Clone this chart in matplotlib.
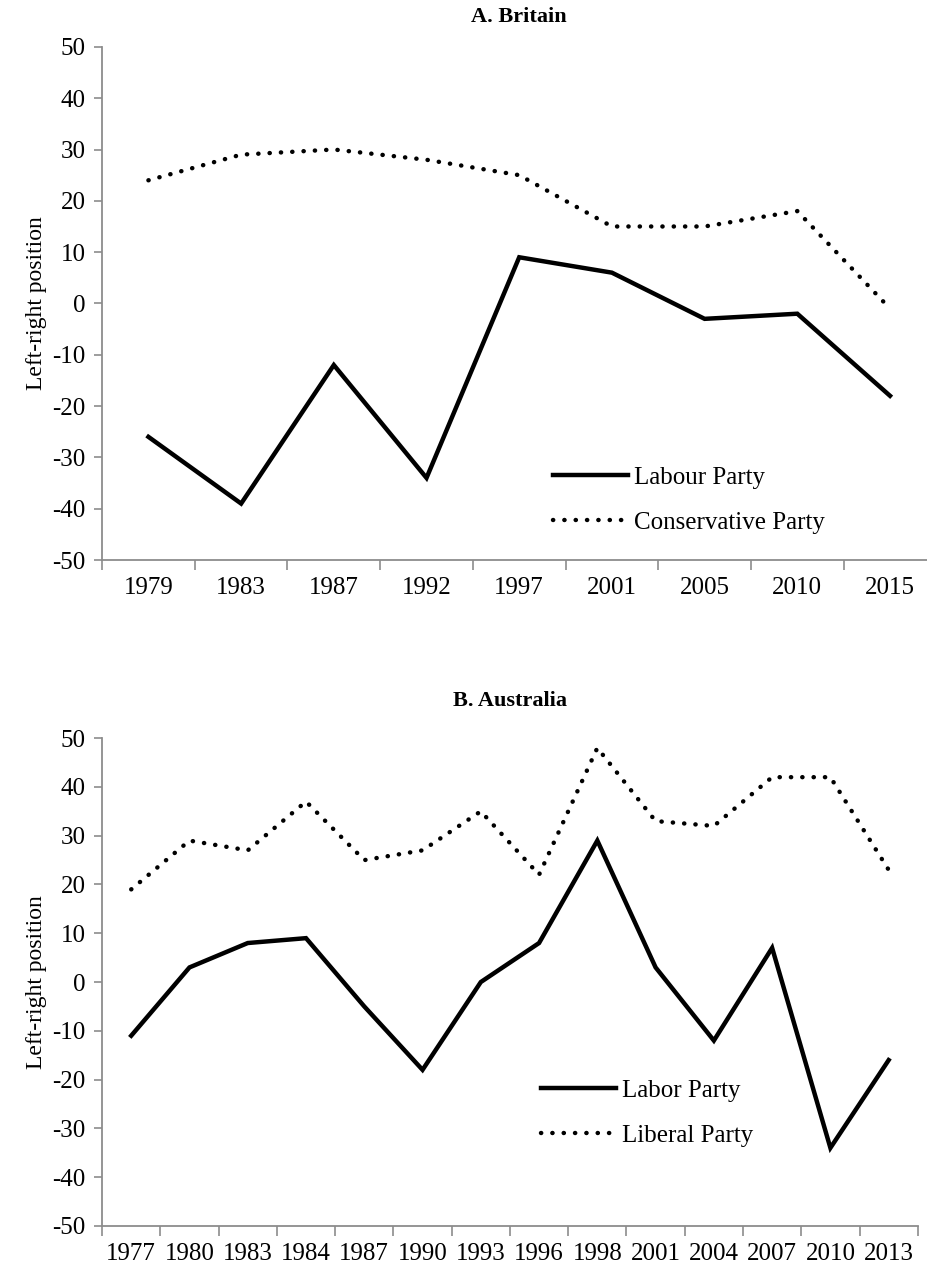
"""Left-right positions of major parties in Britain and Australia."""

import matplotlib

matplotlib.use("Agg")
import matplotlib.pyplot as plt

plt.rcParams["font.family"] = ["Liberation Serif", "DejaVu Serif"]
plt.rcParams["axes.unicode_minus"] = False

# Panel A: Britain
uk_years = ["1979", "1983", "1987", "1992", "1997", "2001", "2005", "2010", "2015"]
uk_labour = [-26, -39, -12, -34, 9, 6, -3, -2, -18]
uk_conservative = [24, 29, 30, 28, 25, 15, 15, 18, -1]

# Panel B: Australia
au_years = ["1977", "1980", "1983", "1984", "1987", "1990", "1993",
            "1996", "1998", "2001", "2004", "2007", "2010", "2013"]
au_labor = [-11, 3, 8, 9, -5, -18, 0, 8, 29, 3, -12, 7, -34, -16]
au_liberal = [19, 29, 27, 37, 25, 27, 35, 22, 48, 33, 32, 42, 42, 23]

AXIS_GREY = "#8c8c8c"
DOTTED = (0, (0.05, 2.5))


def draw_panel(ax, title, years, solid, dotted, labels, legend_anchor,
               title_pad):
    x = range(len(years))
    ax.plot(x, solid, color="black", lw=3.2, solid_joinstyle="miter",
            label=labels[0])
    ax.plot(x, dotted, color="black", lw=3.2, linestyle=DOTTED,
            dash_capstyle="round", label=labels[1])
    ax.set_xlim(-0.5, len(years) - 0.5)
    ax.set_ylim(-50, 50)
    ax.set_yticks(range(-50, 51, 10))
    ax.set_xticks(list(x))
    ax.set_xticklabels(years)
    ax.set_xticks([i - 0.5 for i in range(len(years) + 1)], minor=True)
    ax.tick_params(axis="x", which="major", length=0, labelsize=18, pad=12)
    ax.tick_params(axis="x", which="minor", length=7, width=1.2,
                   color=AXIS_GREY, direction="out")
    ax.tick_params(axis="y", length=6, width=1.2, color=AXIS_GREY,
                   labelsize=18, pad=6)
    for side in ("top", "right"):
        ax.spines[side].set_visible(False)
    for side in ("left", "bottom"):
        ax.spines[side].set_color(AXIS_GREY)
        ax.spines[side].set_linewidth(1.3)
    ax.set_ylabel("Left-right position", fontsize=17, labelpad=4)
    ax.set_title(title, fontsize=16, fontweight="bold", pad=title_pad)
    ax.legend(loc="upper left", bbox_to_anchor=legend_anchor, frameon=False,
              fontsize=18, handlelength=3.0, handletextpad=0.25,
              labelspacing=0.9, borderpad=0, borderaxespad=0)


fig = plt.figure(figsize=(9.28, 12.67), dpi=100)
ax_a = fig.add_axes([0.110, 0.558, 0.899, 0.405])
ax_b = fig.add_axes([0.110, 0.0324, 0.879, 0.385])

draw_panel(ax_a, "A. Britain", uk_years, uk_labour, uk_conservative,
           ["Labour Party", "Conservative Party"], (0.54, 0.183), 18)
draw_panel(ax_b, "B. Australia", au_years, au_labor, au_liberal,
           ["Labor Party", "Liberal Party"], (0.538, 0.30), 23)

fig.savefig("out.png", dpi=100)
